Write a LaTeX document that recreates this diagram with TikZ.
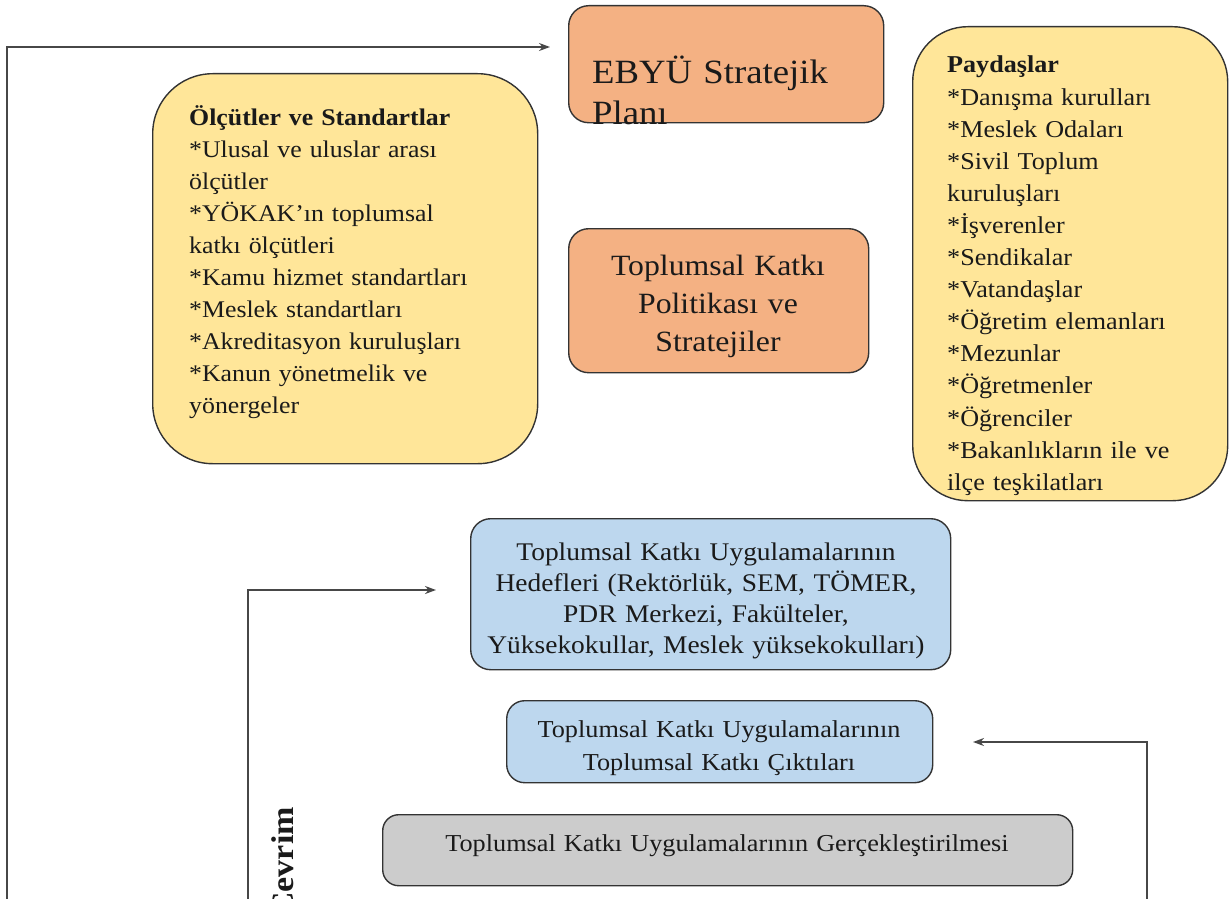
\documentclass[tikz,border=0pt]{standalone}
\usepackage{fontspec}
\setmainfont{Liberation Serif}[FakeStretch=1.08]
\usetikzlibrary{arrows.meta}
\definecolor{orangefill}{HTML}{F4B183}
\definecolor{yellowfill}{HTML}{FFE699}
\definecolor{bluefill}{HTML}{BDD7EE}
\definecolor{grayfill}{HTML}{CCCCCC}
\definecolor{edge}{HTML}{333333}
\definecolor{txt}{HTML}{1A1A1A}
\tikzset{
  box/.style={draw=edge, line width=1.4pt, inner sep=0pt, anchor=north west},
  txtl/.style={inner sep=0pt, anchor=base west, align=left, text=txt},
  txtc/.style={inner sep=0pt, anchor=base, align=center, text=txt},
  loop/.style={draw=edge!90!white, line width=2.8pt, -{Stealth[length=11pt,width=8pt]}}
}
\begin{document}
\begin{tikzpicture}[x=1pt,y=-1pt]
\useasboundingbox (0,0) rectangle (1229,899);
\clip (0,0) rectangle (1229,899);
% boxes
\node[box, fill=orangefill, rounded corners=20pt, minimum width=315pt, minimum height=117pt] (ebyu) at (568,5) {};
\node[box, fill=orangefill, rounded corners=20pt, minimum width=300pt, minimum height=144pt] (pol) at (568,228) {};
\node[box, fill=yellowfill, rounded corners=60pt, minimum width=385pt, minimum height=390pt] (olc) at (152,73) {};
\node[box, fill=yellowfill, rounded corners=55pt, minimum width=315pt, minimum height=474pt] (pay) at (912,26) {};
\node[box, fill=bluefill, rounded corners=20pt, minimum width=480pt, minimum height=151pt] (hed) at (470,518) {};
\node[box, fill=bluefill, rounded corners=18pt, minimum width=426pt, minimum height=82pt] (cik) at (506,700) {};
\node[box, fill=grayfill, rounded corners=16pt, minimum width=690pt, minimum height=71pt] (ger) at (382,814) {};
% texts
\node[txtl, text width=320pt, font=\fontsize{34}{41}\selectfont] (ebyut) at (592,84) {EBYÜ Stratejik\\Planı};
\node[txtc, text width=300pt, font=\fontsize{29.4}{38}\selectfont] (polt) at (718,275) {Toplumsal Katkı\\Politikası ve\\Stratejiler};
\node[txtl, text width=360pt, font=\fontsize{23.9}{32}\selectfont] (olct) at (189,125) {\textbf{Ölçütler ve Standartlar}\\{}*Ulusal ve uluslar arası\\ölçütler\\{}*YÖKAK’ın toplumsal\\katkı ölçütleri\\{}*Kamu hizmet standartları\\{}*Meslek standartları\\{}*Akreditasyon kuruluşları\\{}*Kanun yönetmelik ve\\yönergeler};
\node[txtl, text width=300pt, font=\fontsize{24.2}{32.1}\selectfont] (payt) at (947,73) {\textbf{Paydaşlar}\\{}*Danışma kurulları\\{}*Meslek Odaları\\{}*Sivil Toplum\\kuruluşları\\{}*İşverenler\\{}*Sendikalar\\{}*Vatandaşlar\\{}*Öğretim elemanları\\{}*Mezunlar\\{}*Öğretmenler\\{}*Öğrenciler\\{}*Bakanlıkların ile ve\\ilçe teşkilatları};
\node[txtc, text width=480pt, font=\fontsize{25.4}{31}\selectfont] (hedt) at (706,560) {Toplumsal Katkı Uygulamalarının\\Hedefleri (Rektörlük, SEM, TÖMER,\\PDR Merkezi, Fakülteler,\\Yüksekokullar, Meslek yüksekokulları)};
\node[txtc, text width=420pt, font=\fontsize{24.3}{33}\selectfont] (cikt) at (719,737) {Toplumsal Katkı Uygulamalarının\\Toplumsal Katkı Çıktıları};
\node[txtc, text width=680pt, font=\fontsize{24.3}{31}\selectfont] (gert) at (727,851) {Toplumsal Katkı Uygulamalarının Gerçekleştirilmesi};
\node[inner sep=0pt, anchor=base east, rotate=90, text=txt, font=\fontsize{31.5}{36}\selectfont\bfseries] (cev) at (293,807) {Çevrim};
% connectors
\coordinate (a1) at (7,910);
\coordinate (a2) at (550,47);
\coordinate (b1) at (248,910);
\coordinate (b2) at (436,590);
\coordinate (c1) at (1147,910);
\coordinate (c2) at (973,742);
\draw[loop] (a1) |- (a2);
\draw[loop] (b1) |- (b2);
\draw[loop] (c1) |- (c2);
\end{tikzpicture}
\end{document}
